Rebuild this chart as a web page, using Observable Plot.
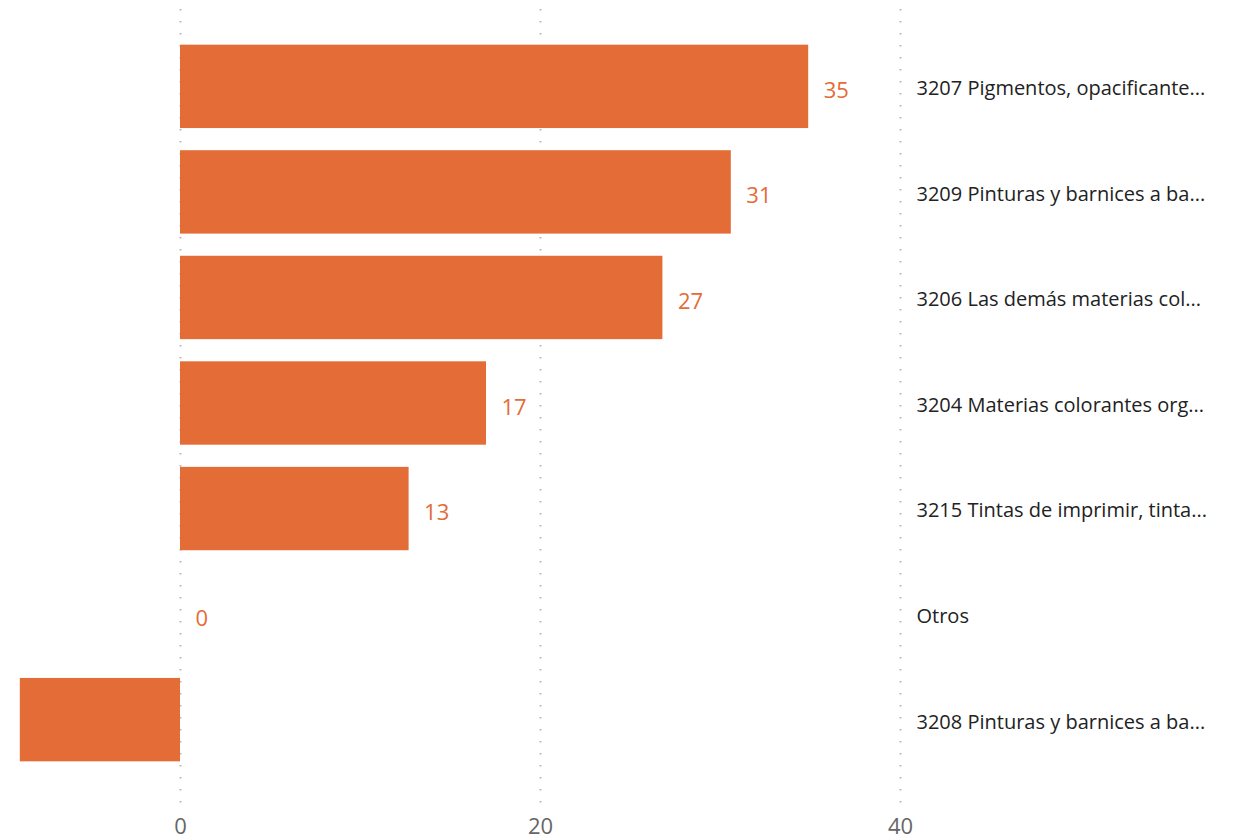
<!DOCTYPE html>
<html>
<head>
<meta charset="utf-8">
<script src="https://cdn.jsdelivr.net/npm/d3@7"></script>
<script src="https://cdn.jsdelivr.net/npm/@observablehq/plot@0.6"></script>
<style>
  html, body { margin: 0; padding: 0; background: #fff; }
  #chart svg { display: block; }
</style>
</head>
<body>
<div id="chart"></div>
<script>
const categories = [
  "3207 Pigmentos, opacificante...",
  "3209 Pinturas y barnices a ba...",
  "3206 Las demás materias col...",
  "3204 Materias colorantes org...",
  "3215 Tintas de imprimir, tinta...",
  "Otros",
  "3208 Pinturas y barnices a ba..."
];
const values = [34.9, 30.6, 26.8, 17.0, 12.7, 0, -8.9];
const valueLabels = ["35", "31", "27", "17", "13", "0", ""];
const xTicks = [0, 20, 40];

const data = categories.map((c, i) => ({cat: c, v: values[i], label: valueLabels[i]}));
const barColor = "#E46C37";

const chart = Plot.plot({
  width: 1235,
  height: 840,
  marginLeft: 0,
  marginRight: 335,
  marginTop: 9,
  marginBottom: 36,
  style: {fontFamily: "'Open Sans', 'Noto Sans', sans-serif", background: "#fff"},
  x: {domain: [-10, 40], ticks: xTicks, label: null},
  y: {domain: categories, range: [22.5, 783.5], padding: 0.21, round: false, label: null},
  marks: [
    Plot.ruleX(xTicks, {stroke: "#b8b8b8", strokeWidth: 2, strokeDasharray: "1.5,10.5", strokeOpacity: 1}),
    Plot.barX(data, {x1: 0, x2: "v", y: "cat", fill: barColor}),
    Plot.text(data.filter(d => d.label !== ""), {x: "v", y: "cat", text: "label", dx: 15, dy: 4, textAnchor: "start", fill: barColor, fontSize: 22}),
    Plot.axisX({ticks: xTicks, tickSize: 0, tickPadding: 14, fontSize: 22, color: "#666", label: null}),
    Plot.axisY({anchor: "right", tickSize: 0, tickPadding: 16, dy: 2, textAnchor: "start", fontSize: 20, color: "#222", label: null})
  ]
});
document.getElementById("chart").appendChild(chart);
</script>
</body>
</html>
